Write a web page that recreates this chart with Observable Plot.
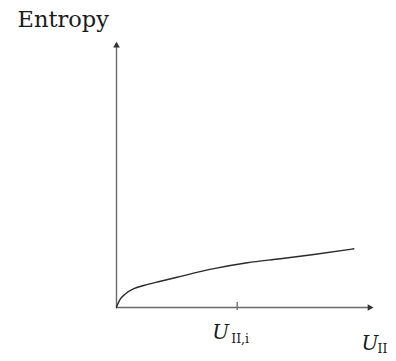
<!DOCTYPE html>
<html>
<head>
<meta charset="utf-8">
<script src="https://cdn.jsdelivr.net/npm/d3@7"></script>
<script src="https://cdn.jsdelivr.net/npm/@observablehq/plot@0.6"></script>
<style>
  html, body { margin: 0; padding: 0; background: #fff; }
  svg text { font-family: "DejaVu Serif", "Liberation Serif", serif; }
</style>
</head>
<body>
<div id="chart"></div>
<script>
// Curve: internal energy U_II (x) vs entropy (y), schematic units (axis length = 1)
const uValues = [0, 0.003, 0.015, 0.035, 0.067, 0.105, 0.170, 0.234, 0.376, 0.505, 0.633, 0.762, 0.916];
const sValues = [0, 0.008, 0.032, 0.051, 0.070, 0.082, 0.098, 0.113, 0.145, 0.167, 0.182, 0.198, 0.219];
const tickValue = 0.466;          // U_II,i
const yLabel = "Entropy";
const xLabelMain = "U";
const xLabelSub = "II";
const tickLabelMain = "U";
const tickLabelSub = "II,i";

const curve = uValues.map((u, i) => ({u, s: sValues[i]}));

const axisColor = "#6a6a6a";
const inkColor = "#2a2a2a";

const chart = Plot.plot({
  width: 396,
  height: 361,
  marginLeft: 116,
  marginRight: 21,
  marginTop: 39,
  marginBottom: 54,
  x: {domain: [0, 1], axis: null},
  y: {domain: [0, 1], axis: null},
  style: {background: "white", overflow: "visible"},
  marks: [
    // axes
    Plot.ruleY([0], {x1: 0, x2: 0.985, stroke: axisColor, strokeWidth: 1.4}),
    Plot.ruleX([0], {y1: 0, y2: 0.985, stroke: axisColor, strokeWidth: 1.4}),
    // arrowheads
    Plot.dot([{u: 0.985, s: 0}], {x: "u", y: "s", symbol: "triangle2", r: 3.2, rotate: 90, fill: "#333", dx: -2}),
    Plot.dot([{u: 0, s: 0.985}], {x: "u", y: "s", symbol: "triangle2", r: 3.2, rotate: 0, fill: "#333", dy: 2}),
    // tick
    Plot.ruleX([tickValue], {y1: -0.011, y2: 0.019, stroke: axisColor, strokeWidth: 1.3}),
    // curve
    Plot.line(curve, {x: "u", y: "s", curve: "monotone-x", stroke: inkColor, strokeWidth: 1.4}),
    // y label
    Plot.text([yLabel], {x: 0, y: 1, dx: -99, dy: -13, text: d => d, textAnchor: "start", lineAnchor: "bottom", fontSize: 22.5, fill: "#1a1a1a"}),
    // tick label
    Plot.text([tickLabelMain], {x: tickValue, y: 0, dx: -25, dy: 31, text: d => d, textAnchor: "start", lineAnchor: "bottom", fontSize: 20, fontStyle: "italic", fill: "#1a1a1a"}),
    Plot.text([tickLabelSub], {x: tickValue, y: 0, dx: -6, dy: 35, text: d => d, textAnchor: "start", lineAnchor: "bottom", fontSize: 12.5, fill: "#1a1a1a"}),
    // x label
    Plot.text([xLabelMain], {x: 1, y: 0, dx: -14, dy: 42, text: d => d, textAnchor: "start", lineAnchor: "bottom", fontSize: 20, fontStyle: "italic", fill: "#1a1a1a"}),
    Plot.text([xLabelSub], {x: 1, y: 0, dx: 2, dy: 45, text: d => d, textAnchor: "start", lineAnchor: "bottom", fontSize: 12.5, fill: "#1a1a1a"})
  ]
});
document.getElementById("chart").appendChild(chart);
</script>
</body>
</html>
